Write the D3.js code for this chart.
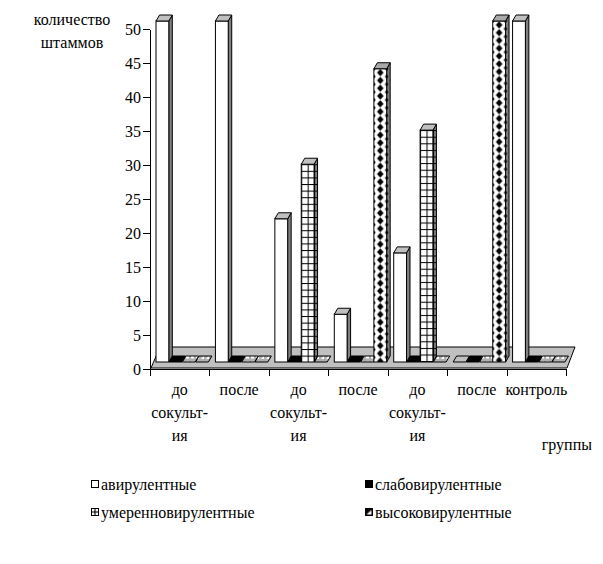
<!DOCTYPE html>
<html>
<head>
<meta charset="utf-8">
<script src="https://d3js.org/d3.v7.min.js"></script>
</head>
<body style="margin:0">
<svg id="chart" width="603" height="564"></svg>
<script>
var groupLabels = [
  ['до', 'сокульт-', 'ия'],
  ['после'],
  ['до', 'сокульт-', 'ия'],
  ['после'],
  ['до', 'сокульт-', 'ия'],
  ['после'],
  ['контроль']
];
var seriesNames = ['авирулентные', 'слабовирулентные', 'умеренновирулентные', 'высоковирулентные'];
var avirulent = [50, 50, 21, 7, 16, 0, 50];
var weak      = [0, 0, 0, 0, 0, 0, 0];
var moderate  = [0, 0, 29, 0, 34, 0, 0];
var high      = [0, 0, 0, 43, 0, 50, 0];
var yTicks = [0, 5, 10, 15, 20, 25, 30, 35, 40, 45, 50];

var seriesValues = [avirulent, weak, moderate, high];

var svg = d3.select('#chart');
var defs = svg.append('defs');

function label(sel) {
  sel.attr('font-size', 16)
    .attr('fill', '#000')
    .style('font-family', "'Times New Roman', 'Liberation Serif', 'Tinos', 'FreeSerif'");
}

// front plane for the axes, bars stand a bit deeper in the 3d box
var y = d3.scaleLinear().domain([0, 50]).range([369, 29]);
var yBar = d3.scaleLinear().domain([0, 50]).range([362, 21]);
var xEdge = d3.scaleLinear().domain([0, groupLabels.length]).range([150, 566]);
var x = d3.scaleBand().domain(d3.range(groupLabels.length)).range([150, 566]).padding(0);

var depthX = 3.5, depthY = 6;
var barStep = 13.2, barW = 12.8, barShift = 6;

// floor
var fl = xEdge(0), fr = xEdge(groupLabels.length), fy = y(0) - 1;
svg.append('polygon')
  .attr('points', [[fl + 1, fy], [fl + 10, fy - 21], [fr + 9, fy - 21], [fr + 1, fy]].join(' '))
  .attr('fill', '#c0c0c0')
  .attr('stroke', '#000')
  .attr('stroke-width', 1);

// patterns -------------------------------------------------------
function gridPattern(id, px, py, bg, ink) {
  var p = defs.append('pattern').attr('id', id)
    .attr('patternUnits', 'userSpaceOnUse')
    .attr('x', px).attr('y', py).attr('width', barW / 2).attr('height', 6.6);
  p.append('rect').attr('width', barW / 2).attr('height', 6.6).attr('fill', bg);
  p.append('rect').attr('width', barW / 2).attr('height', 1).attr('fill', ink);
  p.append('rect').attr('width', 1).attr('height', 6.6).attr('fill', ink);
}

function diamondPattern(id, px, py, bg, ink) {
  var w = barW, h = 7.8;
  var p = defs.append('pattern').attr('id', id)
    .attr('patternUnits', 'userSpaceOnUse')
    .attr('x', px).attr('y', py).attr('width', w).attr('height', h);
  p.append('rect').attr('width', w).attr('height', h).attr('fill', bg);
  p.append('path')
    .attr('d', 'M' + (w / 2) + ',' + (h / 2 - 3.6) + 'l3.3,3.6l-3.3,3.6l-3.3,-3.6z')
    .attr('fill', ink);
  [[0, 0], [w, 0], [0, h], [w, h]].forEach(function(c) {
    p.append('path')
      .attr('d', 'M' + c[0] + ',' + (c[1] - 2.2) + 'l1.8,2.2l-1.8,2.2l-1.8,-2.2z')
      .attr('fill', ink);
  });
}

function topPattern(id, mark) {
  var p = defs.append('pattern').attr('id', id)
    .attr('patternUnits', 'userSpaceOnUse')
    .attr('width', 5).attr('height', 6);
  p.append('rect').attr('width', 5).attr('height', 6).attr('fill', '#b0b0b0');
  if (mark === 'grid') {
    p.append('rect').attr('x', 1).attr('y', 1.5).attr('width', 3).attr('height', 3).attr('fill', '#fff');
  } else {
    p.append('path').attr('d', 'M1,5L4,5L4,1.5z').attr('fill', '#fff');
  }
}
topPattern('top-grid', 'grid');
topPattern('top-diamond', 'diamond');

// bars -----------------------------------------------------------
var bars = [];
groupLabels.forEach(function(g, gi) {
  seriesValues.forEach(function(vals, si) {
    bars.push({ g: gi, s: si, v: vals[gi] });
  });
});

var base = yBar(0);

bars.forEach(function(d) {
  var bx = x(d.g) + barShift + d.s * barStep;
  var top = yBar(d.v);
  var id = 'p' + d.g + '-' + d.s;
  var front, side, topFill;

  if (d.s === 0) { front = '#fff'; side = '#808080'; topFill = '#c0c0c0'; }
  if (d.s === 1) { front = '#000'; side = '#000'; topFill = '#000'; }
  if (d.s === 2) {
    gridPattern(id + 'f', bx, top, '#fff', '#000');
    gridPattern(id + 's', bx + barW, top, '#808080', '#000');
    front = 'url(#' + id + 'f)'; side = 'url(#' + id + 's)';
    topFill = d.v > 0 ? '#c0c0c0' : 'url(#top-grid)';
  }
  if (d.s === 3) {
    diamondPattern(id + 'f', bx, top, '#fff', '#000');
    diamondPattern(id + 's', bx + barW, top, '#808080', '#000');
    front = 'url(#' + id + 'f)'; side = 'url(#' + id + 's)';
    topFill = d.v > 0 ? '#a8a8a8' : 'url(#top-diamond)';
  }

  var gEl = svg.append('g').attr('stroke', '#000').attr('stroke-width', 1).attr('stroke-linejoin', 'miter');

  if (d.v > 0) {
    gEl.append('polygon')
      .attr('points', [[bx + barW, top], [bx + barW + depthX, top - depthY],
                       [bx + barW + depthX, base - depthY], [bx + barW, base]].join(' '))
      .attr('fill', side);
    gEl.append('rect')
      .attr('x', bx).attr('y', top)
      .attr('width', barW).attr('height', base - top)
      .attr('fill', front);
  }
  gEl.append('polygon')
    .attr('points', [[bx, top], [bx + barW, top], [bx + barW + depthX, top - depthY], [bx + depthX, top - depthY]].join(' '))
    .attr('fill', topFill);
});

// axes -----------------------------------------------------------
var yAxis = svg.append('g')
  .attr('transform', 'translate(150,0)')
  .call(d3.axisLeft(y).tickValues(yTicks).tickSize(7).tickSizeOuter(0).tickPadding(2));
yAxis.attr('font-family', null);
yAxis.selectAll('text').call(label);
yAxis.selectAll('text').attr('dy', '0.34em');
yAxis.selectAll('line, path').attr('stroke', '#000').attr('shape-rendering', 'crispEdges');

var xAxis = svg.append('g')
  .attr('transform', 'translate(0,' + y(0) + ')')
  .call(d3.axisBottom(xEdge).tickValues(d3.range(groupLabels.length + 1)).tickFormat('').tickSize(7).tickSizeOuter(0));
xAxis.selectAll('line, path').attr('stroke', '#000').attr('shape-rendering', 'crispEdges');

// category labels
var catText = svg.append('g').selectAll('text')
  .data(groupLabels)
  .join('text')
  .call(label)
  .attr('text-anchor', 'middle')
  .attr('x', function(d, i) { return x(i) + x.bandwidth() / 2; })
  .attr('y', 395);
catText.selectAll('tspan')
  .data(function(d) { return d; })
  .join('tspan')
  .attr('x', function() { return d3.select(this.parentNode).attr('x'); })
  .attr('dy', function(d, i) { return i === 0 ? 0 : 23; })
  .text(function(d) { return d; });

// axis titles
svg.append('text').call(label).attr('x', 72).attr('y', 25).attr('text-anchor', 'middle').text('количество');
svg.append('text').call(label).attr('x', 72).attr('y', 48).attr('text-anchor', 'middle').text('штаммов');
svg.append('text').call(label).attr('x', 592).attr('y', 450).attr('text-anchor', 'end').text('группы');

// legend ---------------------------------------------------------
var legendPos = [[91, 485], [365, 485], [91, 513], [365, 513]];

defs.append('pattern').attr('id', 'sw-grid').attr('patternContentUnits', 'objectBoundingBox')
  .attr('width', 1).attr('height', 1)
  .call(function(p) {
    p.append('rect').attr('width', 1).attr('height', 1).attr('fill', '#fff');
    p.append('rect').attr('y', 0.42).attr('width', 1).attr('height', 0.16).attr('fill', '#000');
    p.append('rect').attr('x', 0.42).attr('width', 0.16).attr('height', 1).attr('fill', '#000');
  });
defs.append('pattern').attr('id', 'sw-diamond').attr('patternContentUnits', 'objectBoundingBox')
  .attr('width', 1).attr('height', 1)
  .call(function(p) {
    p.append('rect').attr('width', 1).attr('height', 1).attr('fill', '#000');
    p.append('path').attr('d', 'M0.15,0.85L0.85,0.85L0.85,0.2z').attr('fill', '#fff');
  });
var swatchFill = ['#fff', '#000', 'url(#sw-grid)', 'url(#sw-diamond)'];

var legend = svg.append('g').selectAll('g')
  .data(seriesNames)
  .join('g')
  .attr('transform', function(d, i) { return 'translate(' + legendPos[i][0] + ',' + legendPos[i][1] + ')'; });
legend.append('rect')
  .attr('x', 0.5).attr('y', -4.5).attr('width', 7).attr('height', 7)
  .attr('fill', function(d, i) { return swatchFill[i]; })
  .attr('stroke', '#000');
legend.append('text')
  .call(label)
  .attr('x', 10).attr('y', 0).attr('dy', '0.32em')
  .text(function(d) { return d; });
</script>
</body>
</html>
